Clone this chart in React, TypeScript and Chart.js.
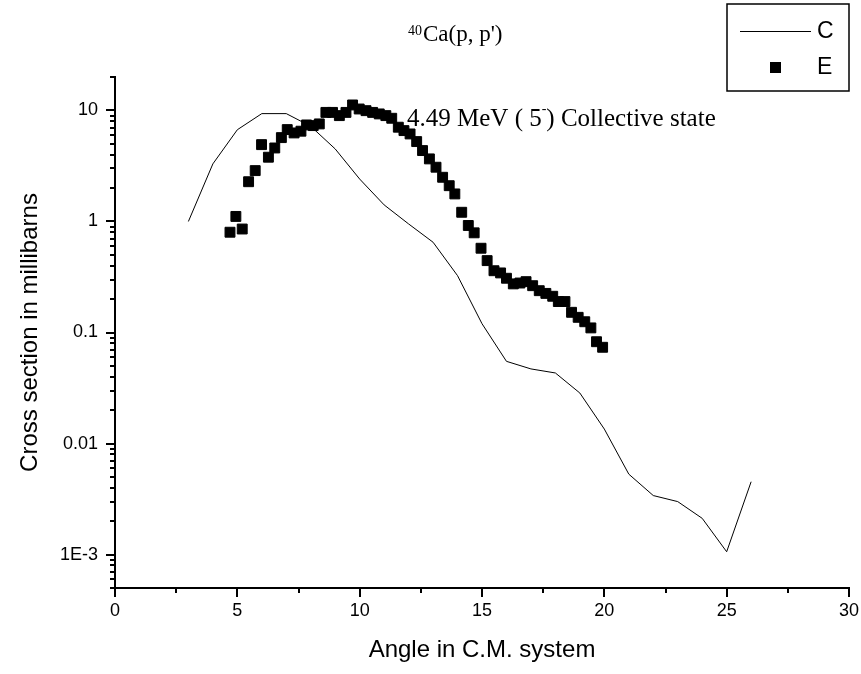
import React, { useEffect, useRef } from 'react';
import { Chart, registerables } from 'chart.js';

Chart.register(...registerables);

// Theory curve C
const theoryAngles = [3, 4, 5, 6, 7, 8, 9, 10, 11, 12, 13, 14, 15, 16, 17, 18, 19, 20, 21, 22, 23, 24, 25, 26];
const theoryValues = [1.0, 3.3, 6.7, 9.36, 9.36, 7.2, 4.5, 2.41, 1.41, 0.95, 0.65, 0.325, 0.12, 0.055, 0.047, 0.0432, 0.0285, 0.0135, 0.0053, 0.0034, 0.003, 0.00212, 0.00106, 0.00453];

// Experimental points E
const expAngles = [4.70, 4.94, 5.20, 5.46, 5.73, 5.99, 6.27, 6.53, 6.80, 7.04, 7.32, 7.60, 7.83, 8.10, 8.35, 8.62, 8.89, 9.17, 9.44, 9.71, 9.98, 10.26, 10.53, 10.80, 11.07, 11.31, 11.58, 11.81, 12.06, 12.33, 12.57, 12.85, 13.12, 13.39, 13.66, 13.89, 14.17, 14.44, 14.68, 14.96, 15.21, 15.49, 15.76, 16.00, 16.28, 16.55, 16.80, 17.07, 17.34, 17.61, 17.89, 18.12, 18.39, 18.66, 18.93, 19.20, 19.45, 19.68, 19.93];
const expValues = [0.80, 1.11, 0.855, 2.28, 2.87, 4.92, 3.79, 4.59, 5.69, 6.72, 6.27, 6.50, 7.40, 7.3, 7.56, 9.6, 9.6, 8.98, 9.6, 11.2, 10.3, 9.95, 9.6, 9.3, 8.98, 8.5, 7.06, 6.58, 6.14, 5.24, 4.35, 3.66, 3.08, 2.5, 2.1, 1.77, 1.21, 0.92, 0.79, 0.574, 0.444, 0.36, 0.344, 0.308, 0.274, 0.279, 0.287, 0.264, 0.238, 0.225, 0.212, 0.19, 0.19, 0.152, 0.137, 0.125, 0.11, 0.0826, 0.0736];

const yTickValues = [0.001, 0.01, 0.1, 1, 10];
const yTickLabels = ['1E-3', '0.01', '0.1', '1', '10'];
const xMin = 0;
const xMax = 30;
const yMin = 5e-4;
const yMax = 20;

const titleSup = '40';
const titleMain = "Ca(p, p')";
const annoBefore = '4.49 MeV ( 5';
const annoSup = '-';
const annoAfter = ') Collective state';
const xTitle = 'Angle in C.M. system';
const yTitle = 'Cross section in millibarns';
const legendNames = ['C', 'E'];

const SANS = '"Liberation Sans", Arial, sans-serif';
const SERIF = '"Liberation Serif", "Times New Roman", serif';

const decorPlugin = {
  id: 'decor',
  afterDraw(chart: any) {
    const ctx = chart.ctx as CanvasRenderingContext2D;
    const xs = chart.scales.x;
    const ys = chart.scales.y;
    const area = chart.chartArea;
    ctx.save();
    ctx.strokeStyle = '#000';
    ctx.lineWidth = 2;
    // y ticks (log, major + minor)
    for (let e = -4; e <= 1; e++) {
      for (let m = 1; m <= 9; m++) {
        const v = m * Math.pow(10, e);
        if (v < yMin * 0.999 || v > yMax * 1.001) continue;
        const py = Math.round(ys.getPixelForValue(v));
        const len = m === 1 ? 9 : 5;
        ctx.beginPath();
        ctx.moveTo(area.left - len, py);
        ctx.lineTo(area.left, py);
        ctx.stroke();
      }
    }
    // x ticks
    for (let v = xMin; v <= xMax + 1e-9; v += 2.5) {
      const px = Math.round(xs.getPixelForValue(v));
      const len = Math.abs(v % 5) < 1e-9 ? 9 : 5;
      ctx.beginPath();
      ctx.moveTo(px, area.bottom);
      ctx.lineTo(px, area.bottom + len);
      ctx.stroke();
    }

    ctx.fillStyle = '#000';
    // Axis titles
    ctx.font = `24px ${SANS}`;
    ctx.textAlign = 'center';
    ctx.textBaseline = 'middle';
    ctx.fillText(xTitle, (area.left + area.right) / 2, 650);
    ctx.save();
    ctx.translate(30, (area.top + area.bottom) / 2);
    ctx.rotate(-Math.PI / 2);
    ctx.fillText(yTitle, 0, 0);
    ctx.restore();

    // Title with superscript
    ctx.textAlign = 'left';
    ctx.textBaseline = 'alphabetic';
    let tx = 408;
    ctx.font = `14px ${SERIF}`;
    ctx.fillText(titleSup, tx, 35);
    tx += ctx.measureText(titleSup).width + 1;
    ctx.font = `23px ${SERIF}`;
    ctx.fillText(titleMain, tx, 41);

    // Annotation
    let ax = 407;
    ctx.font = `25px ${SERIF}`;
    ctx.fillText(annoBefore, ax, 126);
    ax += ctx.measureText(annoBefore).width;
    ctx.font = `14px ${SERIF}`;
    ctx.fillText(annoSup, ax, 113);
    ax += ctx.measureText(annoSup).width;
    ctx.font = `25px ${SERIF}`;
    ctx.fillText(annoAfter, ax, 126);

    // Legend box
    ctx.lineWidth = 1.5;
    ctx.strokeRect(727, 4, 122, 87);
    ctx.lineWidth = 1;
    ctx.beginPath();
    ctx.moveTo(740, 31.5);
    ctx.lineTo(811, 31.5);
    ctx.stroke();
    ctx.fillRect(770, 62, 11, 11);
    ctx.font = `23px ${SANS}`;
    ctx.textBaseline = 'middle';
    ctx.fillText(legendNames[0], 817, 32);
    ctx.fillText(legendNames[1], 817, 68);
    ctx.restore();
  },
};

export default function App() {
  const ref = useRef<HTMLCanvasElement | null>(null);
  useEffect(() => {
    if (!ref.current) return;
    const chart = new Chart(ref.current, {
      type: 'line',
      data: {
        datasets: [
          {
            label: legendNames[1],
            data: expAngles.map((a, i) => ({ x: a, y: expValues[i] })),
            showLine: false,
            pointStyle: 'rect',
            pointRadius: 7,
            pointBackgroundColor: '#000',
            pointBorderColor: '#000',
            pointBorderWidth: 1,
            order: 0,
          },
          {
            label: legendNames[0],
            data: theoryAngles.map((a, i) => ({ x: a, y: theoryValues[i] })),
            borderColor: '#000',
            borderWidth: 1,
            pointRadius: 0,
            tension: 0,
            fill: false,
            order: 1,
          },
        ],
      },
      options: {
        responsive: false,
        animation: false,
        devicePixelRatio: 1,
        layout: { autoPadding: false, padding: { top: 77, right: 12, left: 0, bottom: 0 } },
        plugins: { legend: { display: false }, tooltip: { enabled: false }, title: { display: false } },
        scales: {
          x: {
            type: 'linear',
            min: xMin,
            max: xMax,
            grid: { display: false, drawTicks: false },
            border: { display: true, color: '#000', width: 2 },
            ticks: { stepSize: 5, padding: 12, color: '#000', font: { family: SANS, size: 18 }, maxRotation: 0 },
            afterFit: (s: any) => { s.height = 86; s.paddingLeft = 0; s.paddingRight = 0; },
          },
          y: {
            type: 'logarithmic',
            min: yMin,
            max: yMax,
            grid: { display: false, drawTicks: false },
            border: { display: true, color: '#000', width: 2 },
            ticks: {
              autoSkip: false,
              padding: 17,
              color: '#000',
              font: { family: SANS, size: 18 },
              callback: (value: any) => {
                const v = Number(value);
                const idx = yTickValues.findIndex((t) => Math.abs(v - t) / t < 1e-6);
                return idx >= 0 ? yTickLabels[idx] : '';
              },
            },
            afterFit: (s: any) => { s.width = 115; s.paddingTop = 0; s.paddingBottom = 0; },
          },
        },
      } as any,
      plugins: [decorPlugin],
    });
    return () => chart.destroy();
  }, []);
  return (
    <div style={{ position: 'fixed', left: 0, top: 0, width: 861, height: 674, background: '#fff' }}>
      <canvas ref={ref} width={861} height={674} style={{ width: 861, height: 674, display: 'block' }} />
    </div>
  );
}
